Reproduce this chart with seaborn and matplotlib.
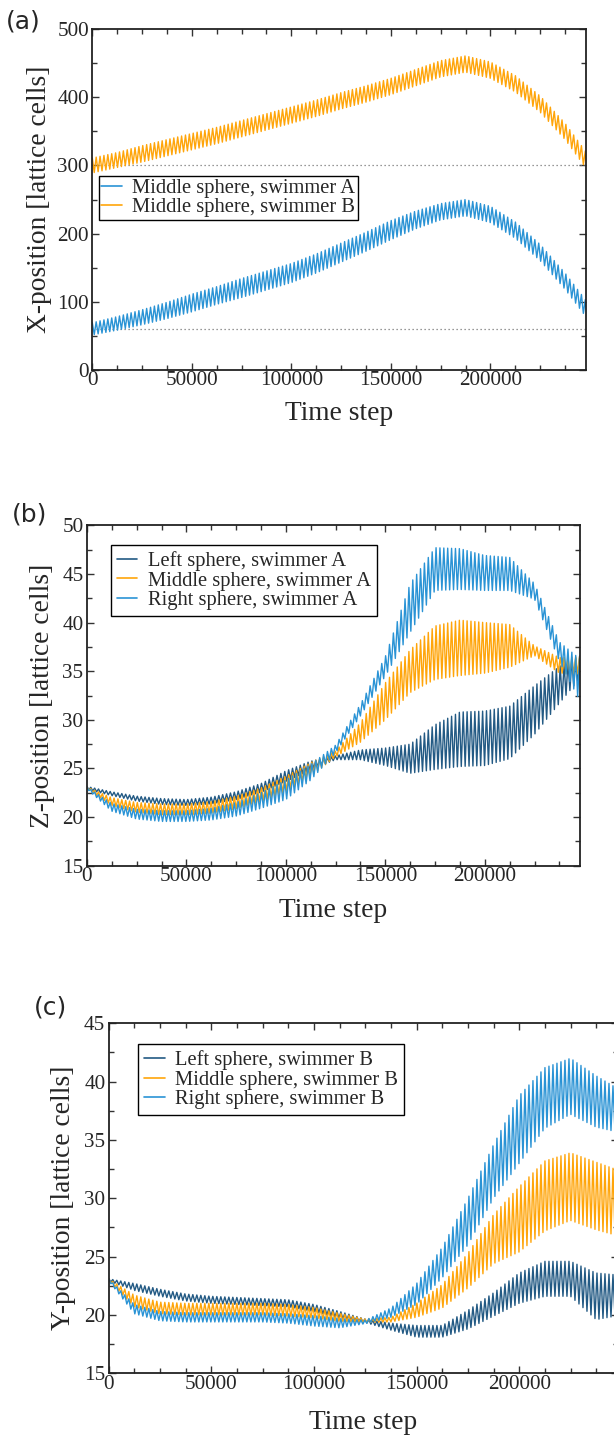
import numpy as np
import matplotlib
matplotlib.use("Agg")
import matplotlib.pyplot as plt
from matplotlib.ticker import MultipleLocator
import seaborn as sns

# envelope every 12500 steps: centre of the band and half swing
time_grid = np.arange(0, 250001, 12500)
period = 1950  # one stroke cycle, in time steps
t_max = 248000

# (a) X-position, middle spheres
x_mid_A = [60, 68, 77, 87, 98, 109, 120, 131, 142, 156, 172, 188, 205, 220, 232, 238, 228, 205, 172, 130, 82]
x_swing_A = [9, 10, 11, 12, 13, 13, 14, 14, 14, 14, 14, 14, 14, 13, 12, 12, 12, 12, 12, 12, 12]
x_mid_B = [300, 308, 317, 326, 335, 344, 354, 364, 374, 384, 395, 405, 416, 429, 442, 449, 440, 420, 390, 350, 300]
x_swing_B = [11, 11, 12, 12, 12, 12, 12, 12, 12, 12, 12, 12, 12, 12, 12, 12, 12, 12, 12, 12, 12]
x_refs = [300, 60]

# (b) Z-position, swimmer A
z_mid_L = [23.0, 22.4, 21.9, 21.6, 21.5, 21.7, 22.2, 23.0, 24.2, 25.3, 26.1, 26.4, 26.2, 26.0, 27.2, 28.0, 28.1, 28.7, 31.0, 33.6, 35.8]
z_swing_L = [0.15, 0.2, 0.25, 0.3, 0.3, 0.35, 0.4, 0.45, 0.55, 0.45, 0.2, 0.5, 0.9, 1.5, 2.3, 2.8, 2.8, 2.7, 2.5, 1.9, 1.0]
z_mid_M = [23.0, 21.6, 21.0, 20.8, 20.8, 21.0, 21.5, 22.3, 23.4, 24.9, 26.5, 28.7, 31.9, 35.0, 36.9, 37.4, 37.4, 37.6, 37.1, 35.6, 35.6]
z_swing_M = [0.1, 0.4, 0.5, 0.55, 0.55, 0.6, 0.65, 0.7, 0.8, 0.7, 0.3, 1.0, 1.9, 2.2, 2.75, 2.85, 2.6, 2.2, 0.5, 0.8, 0.9]
z_mid_R = [23.0, 21.0, 20.3, 20.1, 20.1, 20.3, 20.8, 21.7, 22.8, 24.6, 27.0, 31.0, 35.5, 41.5, 45.5, 45.5, 45.1, 45.0, 43.2, 37.0, 33.5]
z_swing_R = [0.1, 0.4, 0.5, 0.55, 0.55, 0.6, 0.7, 0.8, 1.0, 0.8, 0.4, 0.6, 1.0, 2.5, 2.2, 2.1, 1.8, 1.7, 0.8, 1.0, 2.4]

# (c) Y-position, swimmer B
y_mid_L = [23.0, 22.4, 21.9, 21.5, 21.3, 21.2, 21.1, 21.0, 20.6, 20.0, 19.5, 19.0, 18.6, 18.6, 19.6, 20.9, 22.3, 23.1, 23.1, 21.6, 21.7]
y_swing_L = [0.1, 0.3, 0.3, 0.3, 0.3, 0.3, 0.3, 0.3, 0.3, 0.3, 0.15, 0.3, 0.5, 0.5, 0.8, 1.0, 1.3, 1.5, 1.5, 2.0, 1.7]
y_mid_M = [23.0, 21.2, 20.6, 20.5, 20.5, 20.5, 20.5, 20.4, 20.2, 19.8, 19.5, 19.6, 20.4, 21.6, 23.8, 26.5, 28.2, 30.2, 31.0, 30.2, 29.5]
y_swing_M = [0.1, 0.5, 0.5, 0.5, 0.5, 0.5, 0.5, 0.5, 0.45, 0.35, 0.15, 0.2, 0.6, 1.0, 1.5, 2.1, 2.8, 3.0, 2.9, 2.9, 2.8]
y_mid_R = [23.0, 20.5, 19.9, 19.8, 19.8, 19.8, 19.8, 19.7, 19.5, 19.3, 19.4, 20.2, 21.8, 24.5, 28.0, 32.3, 35.9, 38.6, 39.6, 38.3, 37.4]
y_swing_R = [0.1, 0.4, 0.4, 0.4, 0.4, 0.4, 0.4, 0.4, 0.45, 0.4, 0.15, 0.4, 0.9, 1.3, 2.0, 2.3, 2.9, 2.6, 2.4, 2.2, 1.8]

c_dark = "#235a84"
c_blue = "#2a93d5"
c_orange = "#ffa50a"

sns.set_style("ticks")
plt.rcParams["font.family"] = ["Liberation Serif", "DejaVu Serif"]


def strokes(mid, swing):
    # turning points of the oscillation, alternating top / bottom of the band
    t = np.arange(0, time_grid[-1] + 1, period / 2)
    m = np.interp(t, time_grid, mid)
    s = np.interp(t, time_grid, swing)
    sign = np.where(np.arange(len(t)) % 2 == 0, 1.0, -1.0)
    return t, m + sign * s


def style(ax, ylim, ymajor, yminor, ylabel, xlab_y, ylab_x):
    ax.set_xlim(0, t_max)
    ax.set_ylim(*ylim)
    ax.set_xticks([0, 50000, 100000, 150000, 200000])
    ax.xaxis.set_minor_locator(MultipleLocator(12500))
    ax.yaxis.set_major_locator(MultipleLocator(ymajor))
    ax.yaxis.set_minor_locator(MultipleLocator(yminor))
    ax.tick_params(which="both", direction="in", top=True, right=True,
                   color="#333333", labelsize=15.2, width=1.0)
    ax.tick_params(which="major", length=5)
    ax.tick_params(which="minor", length=3.5)
    ax.tick_params(axis="x", pad=1)
    ax.tick_params(axis="y", pad=2.5)
    for sp in ax.spines.values():
        sp.set_linewidth(1.3)
        sp.set_color("#222222")
    ax.set_xlabel("Time step", fontsize=19.8)
    ax.set_ylabel(ylabel, fontsize=19.8)
    ax.xaxis.set_label_coords(0.5, xlab_y)
    ax.yaxis.set_label_coords(ylab_x, 0.5)


def legend(ax, anchor, spacing, pad):
    leg = ax.legend(loc="upper left", bbox_to_anchor=anchor, borderaxespad=0,
                    fontsize=14.8, frameon=True, fancybox=False, framealpha=1,
                    edgecolor="black", handlelength=1.0, handletextpad=0.5,
                    labelspacing=spacing, borderpad=pad)
    leg.get_frame().set_linewidth(1.0)
    for ln in leg.get_lines():
        ln.set_linewidth(1.2)


W, H = 614, 1437
fig = plt.figure(figsize=(W / 100, H / 100), dpi=100)

# (a)
ax1 = fig.add_axes([92.3 / W, 1 - 369.7 / H, 493.7 / W, 340.4 / H])
for yr in x_refs:
    ax1.axhline(yr, color="#777777", lw=0.9, ls=(0, (1, 2.2)), zorder=1)
t, v = strokes(x_mid_A, x_swing_A)
sns.lineplot(x=t, y=v, ax=ax1, color=c_blue, lw=1.0, sort=False, estimator=None,
             label="Middle sphere, swimmer A")
t, v = strokes(x_mid_B, x_swing_B)
sns.lineplot(x=t, y=v, ax=ax1, color=c_orange, lw=1.0, sort=False, estimator=None,
             label="Middle sphere, swimmer B")
style(ax1, (0, 500), 100, 50, "X-position [lattice cells]", -0.092, -0.082)
legend(ax1, (0.0136, 0.569), 0.0, 0.12)

# (b)
ax2 = fig.add_axes([86.9 / W, 1 - 865.7 / H, 493.4 / W, 340.4 / H])
for mid, sw, col, lab in [(z_mid_L, z_swing_L, c_dark, "Left sphere, swimmer A"),
                          (z_mid_M, z_swing_M, c_orange, "Middle sphere, swimmer A"),
                          (z_mid_R, z_swing_R, c_blue, "Right sphere, swimmer A")]:
    t, v = strokes(mid, sw)
    sns.lineplot(x=t, y=v, ax=ax2, color=col, lw=1.0, sort=False, estimator=None, label=lab)
style(ax2, (15, 50), 5, 2.5, "Z-position [lattice cells]", -0.095, -0.065)
legend(ax2, (0.048, 0.942), 0.0, 0.3)

# (c)
ax3 = fig.add_axes([108.8 / W, 1 - 1373.3 / H, 508.9 / W, 350 / H])
for mid, sw, col, lab in [(y_mid_L, y_swing_L, c_dark, "Left sphere, swimmer B"),
                          (y_mid_M, y_swing_M, c_orange, "Middle sphere, swimmer B"),
                          (y_mid_R, y_swing_R, c_blue, "Right sphere, swimmer B")]:
    t, v = strokes(mid, sw)
    sns.lineplot(x=t, y=v, ax=ax3, color=col, lw=1.0, sort=False, estimator=None, label=lab)
style(ax3, (15, 45), 5, 2.5, "Y-position [lattice cells]", -0.105, -0.0635)
legend(ax3, (0.0575, 0.94), 0.0, 0.3)

for lab, (px, py) in zip(["(a)", "(b)", "(c)"], [(23, 21), (30, 515), (50, 1007)]):
    fig.text(px / W, 1 - py / H, lab, fontsize=18, family="DejaVu Sans",
             ha="center", va="center")

fig.savefig("out.png", dpi=100)
